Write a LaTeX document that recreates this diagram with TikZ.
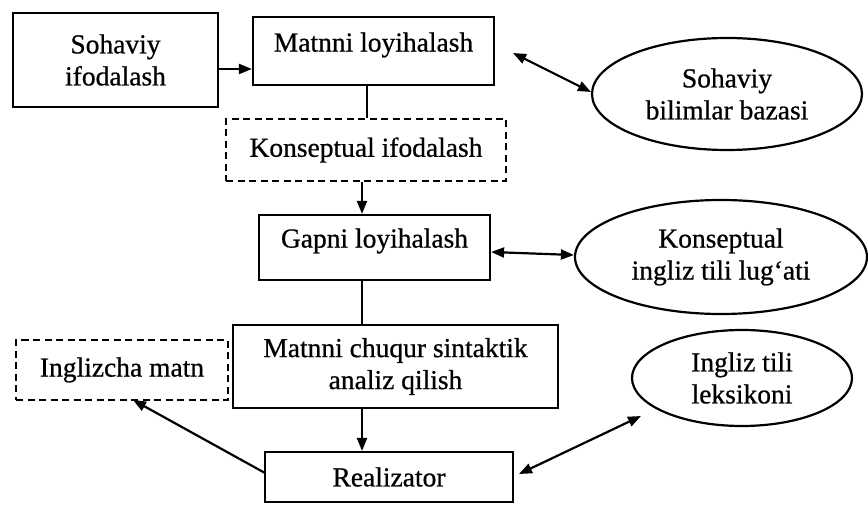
\documentclass[tikz,border=0pt]{standalone}
\usepackage{fontspec}
\setmainfont{Liberation Serif}[FakeBold=0.7]
\usetikzlibrary{arrows.meta,shapes.geometric}
\begin{document}
\begin{tikzpicture}[x=1pt,y=-1pt,
  every node/.style={font=\fontsize{27.5}{32}\selectfont, align=center, inner sep=0pt},
  solidbox/.style={draw, line width=2.2pt, rectangle},
  dashbox/.style={draw, line width=2pt, rectangle, dash pattern=on 7pt off 4.5pt},
  store/.style={draw, line width=2.2pt, ellipse, inner sep=0pt},
  link/.style={line width=2.2pt},
  tip/.style={link, -{Triangle[length=13pt,width=10pt]}},
  both/.style={link, {Triangle[length=13pt,width=10pt]}-{Triangle[length=13pt,width=10pt]}}]
\useasboundingbox (0,0) rectangle (868,505);

% main process boxes
\node[solidbox, minimum width=205pt, minimum height=94pt] (domrep) at (115.5,60) {Sohaviy\\ifodalash};
\node[solidbox, minimum width=241pt, minimum height=68pt] (textplan) at (373.5,51) {};
\node at (373.5,45) {Matnni loyihalash};
\node[dashbox, minimum width=280pt, minimum height=62pt] (concrep) at (366,150) {Konseptual ifodalash};
\node[solidbox, minimum width=231pt, minimum height=65pt] (sentplan) at (374.5,247.5) {};
\node at (374.5,241) {Gapni loyihalash};
\node[solidbox, minimum width=325pt, minimum height=83pt] (deepsyn) at (395.5,366.5) {Matnni chuqur sintaktik\\analiz qilish};
\node[dashbox, minimum width=212pt, minimum height=60pt] (engtext) at (122,370) {Inglizcha matn};
\node[solidbox, minimum width=248pt, minimum height=50pt] (realizer) at (389,477) {Realizator};

% knowledge sources
\node[store, minimum width=270pt, minimum height=112pt] (kb) at (727,94) {Sohaviy\\bilimlar bazasi};
\node[store, minimum width=292pt, minimum height=114pt] (lex1) at (721,257) {Konseptual\\ingliz tili lug‘ati};
\node[store, minimum width=220pt, minimum height=96pt] (lex2) at (742,378) {Ingliz tili\\leksikoni};

% flow connectors
\draw[tip] (domrep.east |- 0,69) -- (textplan.west |- 0,69);
\draw[link] (textplan.south -| 367,0) -- (concrep.north -| 367,0);
\draw[tip] (concrep.south -| 362,0) -- (sentplan.north -| 362,0);
\draw[link] (sentplan.south -| 362,0) -- (deepsyn.north -| 362,0);
\draw[tip] (deepsyn.south -| 362,0) -- (realizer.north -| 362,0);
\coordinate (rz-l) at (265,473);
\coordinate (et-b) at (133,400);
\draw[tip] (rz-l) -- (et-b);

% exchanges with the knowledge sources
\coordinate (tp-r) at (513,53);
\coordinate (kb-l) at (591,92);
\draw[both] (tp-r) -- (kb-l);
\draw[both] (sentplan.east |- 0,252) -- (lex1.west |- 0,255);
\coordinate (rz-r) at (519,474);
\coordinate (lx-l) at (641,416);
\draw[both] (rz-r) -- (lx-l);
\end{tikzpicture}
\end{document}
